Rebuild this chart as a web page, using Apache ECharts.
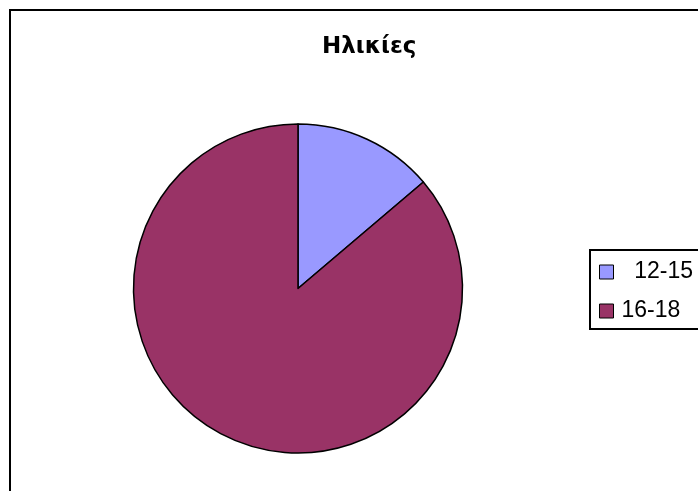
<!DOCTYPE html>
<html>
<head>
<meta charset="utf-8">
<script src="https://cdn.jsdelivr.net/npm/echarts@6/dist/echarts.min.js"></script>
<style>
html,body{margin:0;padding:0;background:#fff;}
#chart{width:698px;height:491px;}
</style>
</head>
<body>
<div id="chart"></div>
<script>
const chartTitle = 'Ηλικίες';
const categories = ['12-15', '16-18'];
const values = [4, 25];
const colors = ['#9999FF', '#993366'];

const chart = echarts.init(document.getElementById('chart'), null, {renderer: 'canvas'});
chart.setOption({
  backgroundColor: '#ffffff',
  animation: false,
  graphic: [{
    type: 'rect',
    shape: {x: 10, y: 10, width: 800, height: 600},
    style: {fill: 'none', stroke: '#000', lineWidth: 2},
    silent: true
  }],
  title: {
    text: chartTitle,
    left: 317,
    top: 31,
    textStyle: {fontFamily: 'DejaVu Sans', fontWeight: 'bold', fontSize: 23, color: '#000'}
  },
  legend: {
    orient: 'vertical',
    left: 590,
    top: 250,
    padding: [10, 30, 6, 9],
    borderColor: '#000',
    borderWidth: 2,
    itemWidth: 14,
    itemHeight: 14,
    itemGap: 15,
    icon: 'rect',
    itemStyle: {borderColor: '#000', borderWidth: 1},
    formatter: function (name) { return name === categories[0] ? '  ' + name : name; },
    textStyle: {fontFamily: 'Liberation Sans', fontSize: 23, lineHeight: 24, color: '#000', padding: [0, 0, 0, 3]},
    data: categories
  },
  series: [{
    type: 'pie',
    center: [298, 288.5],
    radius: 164.5,
    startAngle: 90,
    clockwise: true,
    label: {show: false},
    labelLine: {show: false},
    emphasis: {disabled: true},
    itemStyle: {borderColor: '#000', borderWidth: 1.5},
    data: categories.map((c, i) => ({name: c, value: values[i], itemStyle: {color: colors[i]}}))
  }]
});
</script>
</body>
</html>
